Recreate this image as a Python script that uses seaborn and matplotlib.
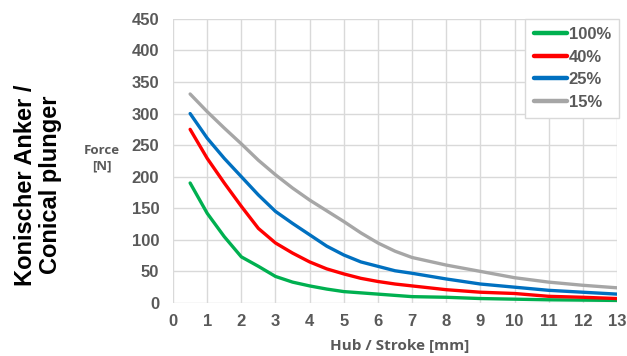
import matplotlib
matplotlib.use("Agg")
import matplotlib.pyplot as plt
import seaborn as sns
import pandas as pd

# Stroke positions [mm]
stroke = [0.5, 1, 1.5, 2, 2.5, 3, 3.5, 4, 4.5, 5, 5.5, 6, 6.5, 7, 8, 9, 10, 11, 12, 13]

# Force [N] per duty cycle
force_100 = [190, 142, 105, 73, 58, 42, 33, 27, 22, 18, 16, 14, 12, 10, 9, 7, 6, 5, 4.5, 4]
force_40 = [275, 229, 190, 153, 118, 95, 79, 65, 54, 46, 39, 34, 30, 27, 21, 17, 15, 10.5, 9, 7]
force_25 = [300, 261, 229, 200, 171, 145, 126, 108, 90, 76, 65, 58, 51, 47, 38, 30, 25, 20, 17, 14]
force_15 = [331, 303, 277, 252, 226, 203, 182, 163, 146, 129, 111, 95, 82, 72, 60, 50, 40, 33, 28, 24]

series_names = ["100%", "40%", "25%", "15%"]
series_colors = ["#00B050", "#FF0000", "#0070C0", "#A6A6A6"]

frames = []
for name, vals in zip(series_names, [force_100, force_40, force_25, force_15]):
    frames.append(pd.DataFrame({"stroke": stroke, "force": vals, "duty": name}))
df = pd.concat(frames, ignore_index=True)

sns.set_theme(style="white")
plt.rcParams["font.family"] = ["Liberation Sans", "DejaVu Sans"]

fig = plt.figure(figsize=(6.27, 3.56), dpi=100)
ax = fig.add_axes([0.276, 0.149, 0.708, 0.798])

sns.lineplot(data=df, x="stroke", y="force", hue="duty",
             hue_order=series_names, palette=series_colors,
             linewidth=2.4, ax=ax, legend=True)

ax.set_xlim(0, 13)
ax.set_ylim(0, 450)
ax.set_xticks(range(0, 14))
ax.set_yticks(range(0, 451, 50))
ax.grid(True, color="#D9D9D9", linewidth=1.0)
ax.set_axisbelow(True)
for s in ax.spines.values():
    s.set_visible(False)

tick_color = "#595959"
ax.tick_params(axis="both", length=0, labelsize=12, labelcolor=tick_color)
ax.tick_params(axis="y", pad=10)
ax.tick_params(axis="x", pad=8)
for lab in ax.get_xticklabels() + ax.get_yticklabels():
    lab.set_fontweight("bold")

ax.set_xlabel("")
ax.set_ylabel("")

fig.text(400 / 627, 1 - 346 / 356, "Hub / Stroke [mm]", ha="center", va="center",
         fontsize=11, fontweight="bold", color=tick_color,
         family=["Open Sans", "DejaVu Sans"])
fig.text(102 / 627, 1 - 158 / 356, "Force\n[N]", ha="center", va="center",
         fontsize=9.5, fontweight="bold", color=tick_color, linespacing=1.25,
         family=["Open Sans", "DejaVu Sans"])
fig.text(38 / 627, 1 - 185 / 356, "Konischer Anker /\nConical plunger",
         rotation=90, ha="center", va="center", fontsize=17,
         fontweight="bold", color="black", linespacing=1.1)

handles, labels = ax.get_legend_handles_labels()
leg = ax.legend(handles, labels, loc="upper right", bbox_to_anchor=(1.005, 1.0),
                borderaxespad=0, frameon=True, fancybox=False,
                edgecolor="#D9D9D9", framealpha=1, fontsize=12,
                handlelength=2.0, handletextpad=0.1, labelspacing=0.45,
                borderpad=0.5)
for t in leg.get_texts():
    t.set_color(tick_color)
    t.set_fontweight("bold")
for l in leg.get_lines():
    l.set_linewidth(3.2)

fig.savefig("out.png", dpi=100)
